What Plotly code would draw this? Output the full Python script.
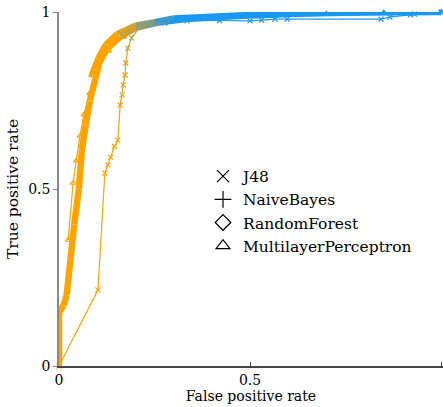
import plotly.graph_objects as go
import numpy as np

# ---- data ----
j48_fpr = [0, 0.102, 0.12, 0.128, 0.135, 0.145, 0.154, 0.16, 0.165, 0.168, 0.173, 0.175, 0.18, 0.19,
           0.212, 0.24, 0.277, 0.335, 0.42, 0.5, 0.53, 0.565, 0.597, 0.843, 0.866, 0.92, 0.93, 1.0]
j48_tpr = [0, 0.215, 0.545, 0.568, 0.59, 0.62, 0.638, 0.737, 0.766, 0.794, 0.822, 0.856, 0.898, 0.927,
           0.958, 0.965, 0.969, 0.975, 0.976, 0.975, 0.977, 0.98, 0.98, 0.98, 0.986, 0.992, 0.994, 1.0]

nb_fpr = [0, 0, 0.005, 0.012, 0.02, 0.03, 0.04, 0.052, 0.06, 0.07, 0.081, 0.095, 0.107, 0.13, 0.16,
          0.2, 0.26, 0.33, 0.4, 0.5, 0.62, 0.75, 0.88, 1.0]
nb_tpr = [0, 0.15, 0.16, 0.17, 0.2, 0.3, 0.4, 0.5, 0.61, 0.68, 0.75, 0.81, 0.864, 0.905, 0.93,
          0.955, 0.97, 0.98, 0.985, 0.99, 0.995, 0.998, 0.999, 1.0]

rf_fpr = [0.081, 0.1, 0.12, 0.15, 0.2, 0.25, 0.3, 0.4, 0.5, 0.7, 1.0]
rf_tpr = [0.816, 0.87, 0.91, 0.94, 0.965, 0.975, 0.985, 0.99, 0.995, 0.998, 1.0]

mlp_fpr = [0.024, 0.037, 0.045, 0.055, 0.065, 0.08, 0.1, 0.13, 0.17, 0.22, 0.3, 0.4, 0.55, 0.7, 0.85, 1.0]
mlp_tpr = [0.356, 0.517, 0.58, 0.65, 0.71, 0.77, 0.83, 0.89, 0.93, 0.96, 0.975, 0.985, 0.99, 0.995, 0.998, 1.0]

legend_names = ["J48", "NaiveBayes", "RandomForest", "MultilayerPerceptron"]

ORANGE = np.array([255, 163, 0])
BLUE = np.array([24, 152, 240])
FONT = "DejaVu Serif, Liberation Serif, serif"


def tval(x):
    return float(np.clip((x - 0.15) / 0.15, 0, 1))


def col(t):
    c = ORANGE * (1 - t) + BLUE * t
    return "rgb(%d,%d,%d)" % tuple(int(round(v)) for v in c)


fig = go.Figure()


def add_curve(xs, ys, width, symbol, msize):
    for i in range(len(xs) - 1):
        t = tval((xs[i] + xs[i + 1]) / 2)
        fig.add_trace(go.Scatter(x=[xs[i], xs[i + 1]], y=[ys[i], ys[i + 1]], mode="lines",
                                 line=dict(color=col(t), width=width), showlegend=False,
                                 hoverinfo="skip", cliponaxis=False))
    if symbol:
        cols = [col(tval(x)) for x in xs]
        fig.add_trace(go.Scatter(x=xs, y=ys, mode="markers", showlegend=False, cliponaxis=False,
                                 marker=dict(symbol=symbol, size=msize, color=cols,
                                             line=dict(width=1.2, color=cols))))


add_curve(nb_fpr, nb_tpr, 6.5, None, 0)
add_curve(rf_fpr, rf_tpr, 4, None, 0)
add_curve(mlp_fpr, mlp_tpr, 1.2, "triangle-up-open", 5)
add_curve(j48_fpr, j48_tpr, 1.2, "x-thin-open", 5)

for name, sym in zip(legend_names, ["x-thin-open", "cross-thin-open", "diamond-open", "triangle-up-open"]):
    fig.add_trace(go.Scatter(x=[None], y=[None], mode="markers", name=name,
                             marker=dict(symbol=sym, size=12, color="black",
                                         line=dict(width=1.2, color="black"))))

fig.update_layout(
    width=443, height=407,
    margin=dict(l=59, r=0, t=12, b=41),
    paper_bgcolor="white", plot_bgcolor="white",
    font=dict(family=FONT, size=14, color="black"),
    legend=dict(x=0.375, y=0.583, xanchor="left", yanchor="top", bgcolor="rgba(0,0,0,0)",
                font=dict(family=FONT, size=15.5, color="black"), tracegroupgap=0, itemwidth=30),
    xaxis=dict(range=[0, 1.005], tickvals=[0, 0.5, 1], ticktext=["0", "0.5", "1"],
               showgrid=False, zeroline=False, showline=True, linecolor="#444444", linewidth=1.5,
               ticks="inside", ticklen=4, tickcolor="#444444",
               title=dict(text="False positive rate", standoff=4, font=dict(size=14)),
               tickfont=dict(size=14), automargin=False),
    yaxis=dict(range=[0, 1], tickvals=[0, 0.5, 1], ticktext=["0", "0.5", "1"],
               showgrid=False, zeroline=False, showline=True, linecolor="#888888", linewidth=1.5,
               ticks="outside", ticklen=4, tickcolor="#888888",
               title=dict(text="True positive rate", standoff=6, font=dict(size=15.5)),
               tickfont=dict(size=14), automargin=False),
)

fig.write_html("out.html", config={"displayModeBar": False},
               post_script="document.body.style.margin='0px';")
